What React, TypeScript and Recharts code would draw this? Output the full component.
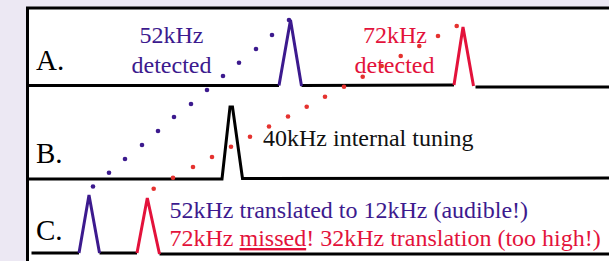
import { ComposedChart, Line, ReferenceArea, Scatter, XAxis, YAxis } from "recharts";

// plain diagram coordinates: x across the strip, y down from the top
const PURPLE = "#3c1a8e";
const RED = "#e3123b";
const DOT_RED = "#e5322f";

const frame = [
  { x: 27.5, y: 261 },
  { x: 27.5, y: 8 },
  { x: 609, y: 8 },
];

const traceA = [
  { x: 27.5, y: 85.5 },
  { x: 279, y: 85.5 },
];
const spikeA52 = [
  { x: 279, y: 85.5 },
  { x: 290.5, y: 20 },
  { x: 301.5, y: 86 },
];
const traceA2 = [
  { x: 301.5, y: 85.5 },
  { x: 454, y: 85 },
];
const spikeA72 = [
  { x: 454, y: 85 },
  { x: 463, y: 27 },
  { x: 473.5, y: 86 },
];
const traceA3 = [
  { x: 475.5, y: 87 },
  { x: 609, y: 87 },
];

const traceB = [
  { x: 27.5, y: 179 },
  { x: 222, y: 179 },
  { x: 230, y: 107 },
  { x: 232.5, y: 107 },
  { x: 242.5, y: 178.5 },
  { x: 609, y: 178 },
];

const traceC = [
  { x: 31.5, y: 253 },
  { x: 79, y: 253 },
];
const spikeC12 = [
  { x: 79, y: 253 },
  { x: 89, y: 195 },
  { x: 99.5, y: 253 },
];
const traceC2 = [
  { x: 99.5, y: 253 },
  { x: 137, y: 253 },
];
const spikeC32 = [
  { x: 137, y: 253 },
  { x: 147.3, y: 198 },
  { x: 159.5, y: 254 },
];
const traceC3 = [
  { x: 159.5, y: 254 },
  { x: 609, y: 254 },
];

const purpleDots = [
  { x: 93, y: 186.5 },
  { x: 109, y: 172.7 },
  { x: 125, y: 159 },
  { x: 142, y: 145 },
  { x: 158, y: 131 },
  { x: 174, y: 117 },
  { x: 191, y: 104 },
  { x: 207, y: 90 },
  { x: 223, y: 76 },
  { x: 239, y: 62.7 },
  { x: 256, y: 49 },
  { x: 272, y: 35 },
  { x: 289, y: 20 },
];

const redDots = [
  { x: 153.7, y: 188.7 },
  { x: 173, y: 177.7 },
  { x: 193, y: 167 },
  { x: 212, y: 157 },
  { x: 231, y: 146.7 },
  { x: 250, y: 136.7 },
  { x: 269, y: 126.5 },
  { x: 288, y: 116.5 },
  { x: 306.7, y: 106.7 },
  { x: 325, y: 96.7 },
  { x: 344, y: 86.7 },
  { x: 362.7, y: 76.7 },
  { x: 381.7, y: 66 },
  { x: 400.7, y: 56 },
  { x: 419.3, y: 46 },
  { x: 438, y: 36 },
  { x: 456.7, y: 26 },
];

const panelLabels = [
  { x: 36, y: 70, text: "A." },
  { x: 36, y: 163, text: "B." },
  { x: 36, y: 240, text: "C." },
];

const notes = [
  { x: 171.5, y: 43, text: "52kHz", color: PURPLE, anchor: "middle" },
  { x: 171.5, y: 72.5, text: "detected", color: PURPLE, anchor: "middle" },
  { x: 395, y: 43, text: "72kHz", color: RED, anchor: "middle" },
  { x: 394.5, y: 72.5, text: "detected", color: RED, anchor: "middle" },
  { x: 263, y: 146, text: "40kHz internal tuning", color: "#111", anchor: "start" },
  { x: 169.5, y: 218, text: "52kHz translated to 12kHz (audible!)", color: PURPLE, anchor: "start" },
  { x: 169.5, y: 246, text: "72kHz missed! 32kHz translation (too high!)", color: RED, anchor: "start", underline: "missed" },
];

const lines = [
  { data: frame, color: "#000" },
  { data: traceA, color: "#000" },
  { data: traceA2, color: "#000" },
  { data: traceA3, color: "#000" },
  { data: traceB, color: "#000" },
  { data: traceC, color: "#000" },
  { data: traceC2, color: "#000" },
  { data: traceC3, color: "#000" },
  { data: spikeA52, color: PURPLE },
  { data: spikeA72, color: RED },
  { data: spikeC12, color: PURPLE },
  { data: spikeC32, color: RED },
];

const FONT = "'Liberation Serif', 'Times New Roman', serif";

function NoteShape(props: any) {
  const { cx, cy, payload } = props;
  const u = payload.underline;
  let body: any = payload.text;
  if (u) {
    const i = payload.text.indexOf(u);
    body = [
      <tspan key="a">{payload.text.slice(0, i)}</tspan>,
      <tspan key="b" textDecoration="underline">{u}</tspan>,
      <tspan key="c">{payload.text.slice(i + u.length)}</tspan>,
    ];
  }
  return (
    <text x={cx} y={cy} fill={payload.color} fontFamily={FONT} fontSize={24} textAnchor={payload.anchor}>
      {body}
    </text>
  );
}

function PanelShape(props: any) {
  const { cx, cy, payload } = props;
  return (
    <text x={cx} y={cy} fill="#000" fontFamily={FONT} fontSize={29}>
      {payload.text}
    </text>
  );
}

const dotShape = (color: string) => (props: any) => (
  <circle cx={props.cx} cy={props.cy} r={2.3} fill={color} />
);

export default function App() {
  return (
    <div style={{ position: "absolute", left: 0, top: 0, width: 609, height: 261, background: "#ece8f3" }}>
      <ComposedChart width={609} height={261} margin={{ top: 0, right: 0, bottom: 0, left: 0 }}>
        <XAxis type="number" dataKey="x" domain={[0, 609]} allowDataOverflow hide />
        <YAxis type="number" dataKey="y" domain={[0, 261]} allowDataOverflow reversed hide />
        <ReferenceArea x1={27.5} x2={609} y1={8} y2={261} fill="#fff" fillOpacity={1} stroke="none" />
        {lines.map((l, i) => (
          <Line
            key={i}
            data={l.data}
            dataKey="y"
            type="linear"
            stroke={l.color}
            strokeWidth={3}
            dot={false}
            activeDot={false}
            isAnimationActive={false}
          />
        ))}
        <Scatter data={panelLabels} shape={PanelShape} isAnimationActive={false} />
        <Scatter data={notes} shape={NoteShape} isAnimationActive={false} />
        <Scatter data={purpleDots} shape={dotShape(PURPLE)} isAnimationActive={false} />
        <Scatter data={redDots} shape={dotShape(DOT_RED)} isAnimationActive={false} />
      </ComposedChart>
    </div>
  );
}
